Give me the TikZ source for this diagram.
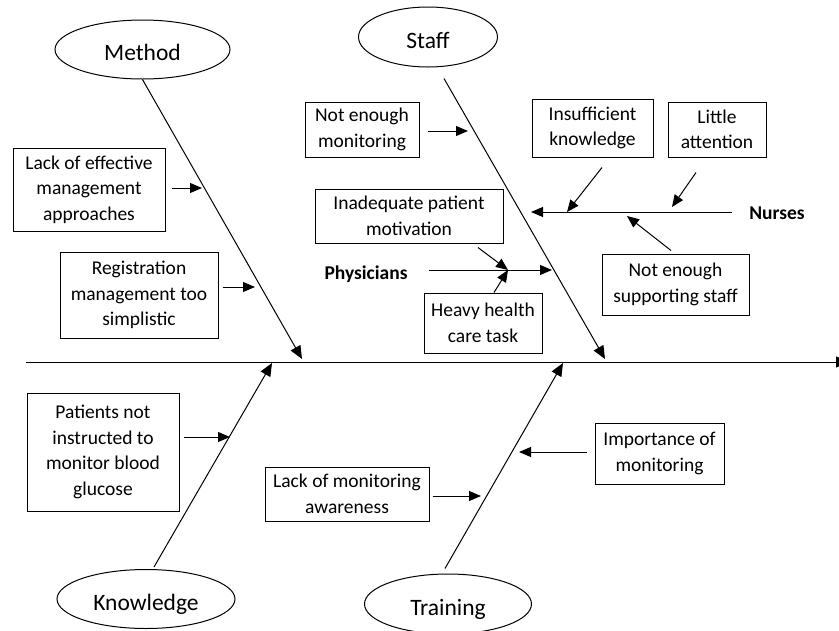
\documentclass[tikz,border=0pt]{standalone}
\usepackage{fontspec}
\setmainfont{Carlito}
\usetikzlibrary{arrows.meta,shapes.geometric}
\begin{document}
\begin{tikzpicture}[x=1pt,y=-1pt,
  box/.style={draw,line width=1pt,rectangle,inner sep=0pt,align=center,
    font=\fontsize{19.5}{25.5}\selectfont},
  oval/.style={draw,line width=1pt,ellipse,inner sep=0pt,text height=22pt,text depth=0pt,
    font=\fontsize{23.5}{28}\selectfont},
  lbl/.style={inner sep=0pt,font=\bfseries\fontsize{19.5}{24}\selectfont},
  arr/.style={line width=1pt,-{Triangle[length=12pt,width=10pt]}},
  bone/.style={line width=1pt,-{Triangle[length=13pt,width=11pt]}}]
\useasboundingbox (0,0) rectangle (839,630);

% category ellipses
\node[oval,minimum width=175pt,minimum height=59pt] (method) at (142.5,49.5) {Method};
\node[oval,minimum width=139pt,minimum height=60pt] (staff) at (428,37) {Staff};
\node[oval,minimum width=178pt,minimum height=59pt] (knowledge) at (146,599) {Knowledge};
\node[oval,minimum width=167pt,minimum height=60pt] (training) at (448,604) {Training};

% cause boxes
\node[box,minimum width=152pt,minimum height=83pt] (lackeff) at (89,189.5) {Lack of effective\\management\\approaches};
\node[box,minimum width=158pt,minimum height=86pt] (regist) at (139,295) {Registration\\management too\\simplistic};
\node[box,minimum width=114pt,minimum height=55pt] (notmon) at (362,129.5) {Not enough\\monitoring};
\node[box,minimum width=188pt,minimum height=54pt] (inad) at (409,216) {Inadequate patient\\motivation};
\node[box,minimum width=118pt,minimum height=60pt] (heavy) at (483,323) {Heavy health\\care task};
\node[box,minimum width=121pt,minimum height=58pt] (insuff) at (592.5,128) {Insufficient\\knowledge};
\node[box,minimum width=98pt,minimum height=55pt] (little) at (717,129.5) {Little\\attention};
\node[box,minimum width=147pt,minimum height=61pt] (supp) at (675.5,284.5) {Not enough\\supporting staff};
\node[box,minimum width=152pt,minimum height=118pt] (patients) at (103,452) {Patients not\\instructed to\\monitor blood\\glucose};
\node[box,minimum width=164pt,minimum height=54pt] (lackmon) at (347,494) {Lack of monitoring\\awareness};
\node[box,minimum width=129pt,minimum height=61pt] (import) at (659.5,453.5) {Importance of\\monitoring};

% labels
\node[lbl] (phys) at (366,274) {Physicians};
\node[lbl] (nurses) at (777,213) {Nurses};

% coordinates
\coordinate (sl) at (26,362);
\coordinate (sr) at (849,362);
\coordinate (mtip) at (302,359);
\coordinate (stip) at (605,359);
\coordinate (ktip) at (272,363);
\coordinate (trtip) at (563,363);
\coordinate (t1) at (202,188);
\coordinate (t2) at (255,287);
\coordinate (t3) at (468,131);
\coordinate (t4) at (230,437);
\coordinate (t5) at (481,496);
\coordinate (t6) at (519,452);
\coordinate (ptip) at (552,270);
\coordinate (pjoin) at (508,270);
\coordinate (ntip) at (531,212);
\coordinate (nk) at (567,212);
\coordinate (nl) at (672,207);
\coordinate (ns) at (627,216);

% spine and bones
\draw[bone] (sl) -- (sr);
\draw[bone] (method.south) -- (mtip);
\draw[bone] ([xshift=16pt,yshift=-11pt]staff.south) -- (stip);
\draw[bone] ([xshift=8pt,yshift=2pt]knowledge.north) -- (ktip);
\draw[bone] ([xshift=-3pt,yshift=5pt]training.north) -- (trtip);

% cause arrows
\draw[arr] ([xshift=6pt,yshift=1.5pt]lackeff.east) -- (t1);
\draw[arr] ([xshift=4pt,yshift=8pt]regist.east) -- (t2);
\draw[arr] ([xshift=8pt,yshift=-1.5pt]notmon.east) -- (t3);
\draw[arr] ([xshift=4pt,yshift=15pt]patients.east) -- (t4);
\draw[arr] ([xshift=3pt,yshift=-2pt]lackmon.east) -- (t5);
\draw[arr] ([xshift=-8pt,yshift=1.5pt]import.west) -- (t6);

% physicians
\draw[arr] ([xshift=21.5pt,yshift=4pt]phys.east) -- (ptip);
\draw[arr] ([xshift=69pt,yshift=-4pt]inad.south) -- (pjoin);
\draw[arr] ([xshift=11pt]heavy.north) -- (pjoin);

% nurses
\draw[arr] ([xshift=-17.5pt,yshift=1pt]nurses.west) -- (ntip);
\draw[arr] ([xshift=9.5pt,yshift=-10pt]insuff.south) -- (nk);
\draw[arr] ([xshift=-21pt,yshift=-15pt]little.south) -- (nl);
\draw[arr] ([xshift=-4.5pt,yshift=3pt]supp.north) -- (ns);
\end{tikzpicture}
\end{document}
